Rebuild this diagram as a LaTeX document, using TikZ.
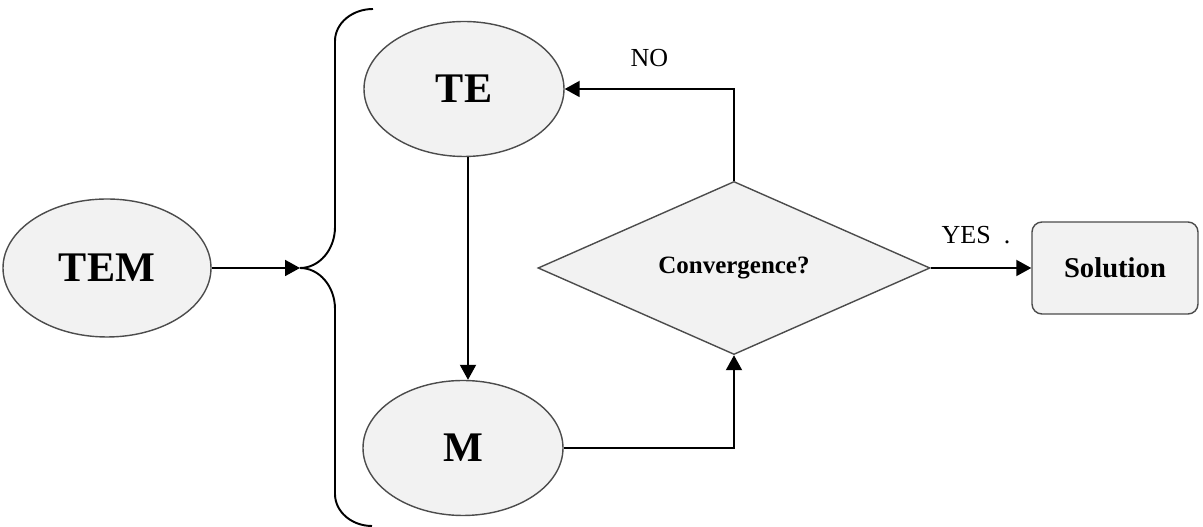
\documentclass[tikz,border=0pt]{standalone}
\usepackage{fontspec}
\setmainfont{Liberation Serif}
\usetikzlibrary{arrows.meta,positioning,calc,shapes.geometric}

\begin{document}
\begin{tikzpicture}[line width=1.1pt,
  >={Triangle[length=0.3cm,width=0.32cm]},
  stage/.style={ellipse, draw=black!70, line width=0.8pt, fill=black!5,
    minimum width=4cm, minimum height=2.7cm,
    font=\fontsize{24}{28}\selectfont\bfseries},
  test/.style={diamond, draw=black!70, line width=0.8pt, fill=black!5,
    inner sep=0pt, minimum width=7.84cm, minimum height=3.4cm,
    font=\fontsize{14.2}{17}\selectfont\bfseries},
  result/.style={rectangle, rounded corners=0.2cm, draw=black!70,
    line width=0.8pt, fill=black!5, minimum width=3.32cm,
    minimum height=1.84cm, font=\fontsize{16.3}{19}\selectfont\bfseries},
  answer/.style={font=\fontsize{14.8}{17}\selectfont}]
  \useasboundingbox (0,0) rectangle (24.06,10.54);
  % Nodes
  \node[stage, minimum width=4.16cm, minimum height=2.76cm] (tem) at (2.14,5.18) {TEM};
  \node[stage] (te) at (9.28,8.76) {TE};
  \node[stage] (m) at (9.26,1.58) {M};
  \node[test] (conv) at (14.68,5.18) {Convergence?};
  \node[result] (sol) at (22.30,5.18) {Solution};
  % Brace round the inner loop
  \coordinate (bracetip) at (6.00,5.18);
  \draw (7.46,10.36) arc[start angle=90, end angle=180, x radius=0.76cm, y radius=0.64cm]
    -- (6.70,6.00)
    arc[start angle=0, end angle=-90, x radius=0.70cm, y radius=0.82cm]
    arc[start angle=90, end angle=0, x radius=0.70cm, y radius=0.82cm]
    -- (6.70,0.66)
    arc[start angle=180, end angle=270, x radius=0.74cm, y radius=0.64cm];
  % Connectors
  \draw[->] (tem.east) -- (bracetip);
  \draw[->] (te.south -| 9.36,0) -- (m.north -| 9.36,0);
  \draw[->] (m.east) -| (conv.south);
  \draw[->] (conv.north) |- (te.east)
    node[answer, pos=0.75, above=0.3cm] {NO};
  \draw[->] (conv.east) -- (sol.west)
    node[answer, pos=0.45, above=0.35cm] {YES\ \ .};
\end{tikzpicture}
\end{document}
